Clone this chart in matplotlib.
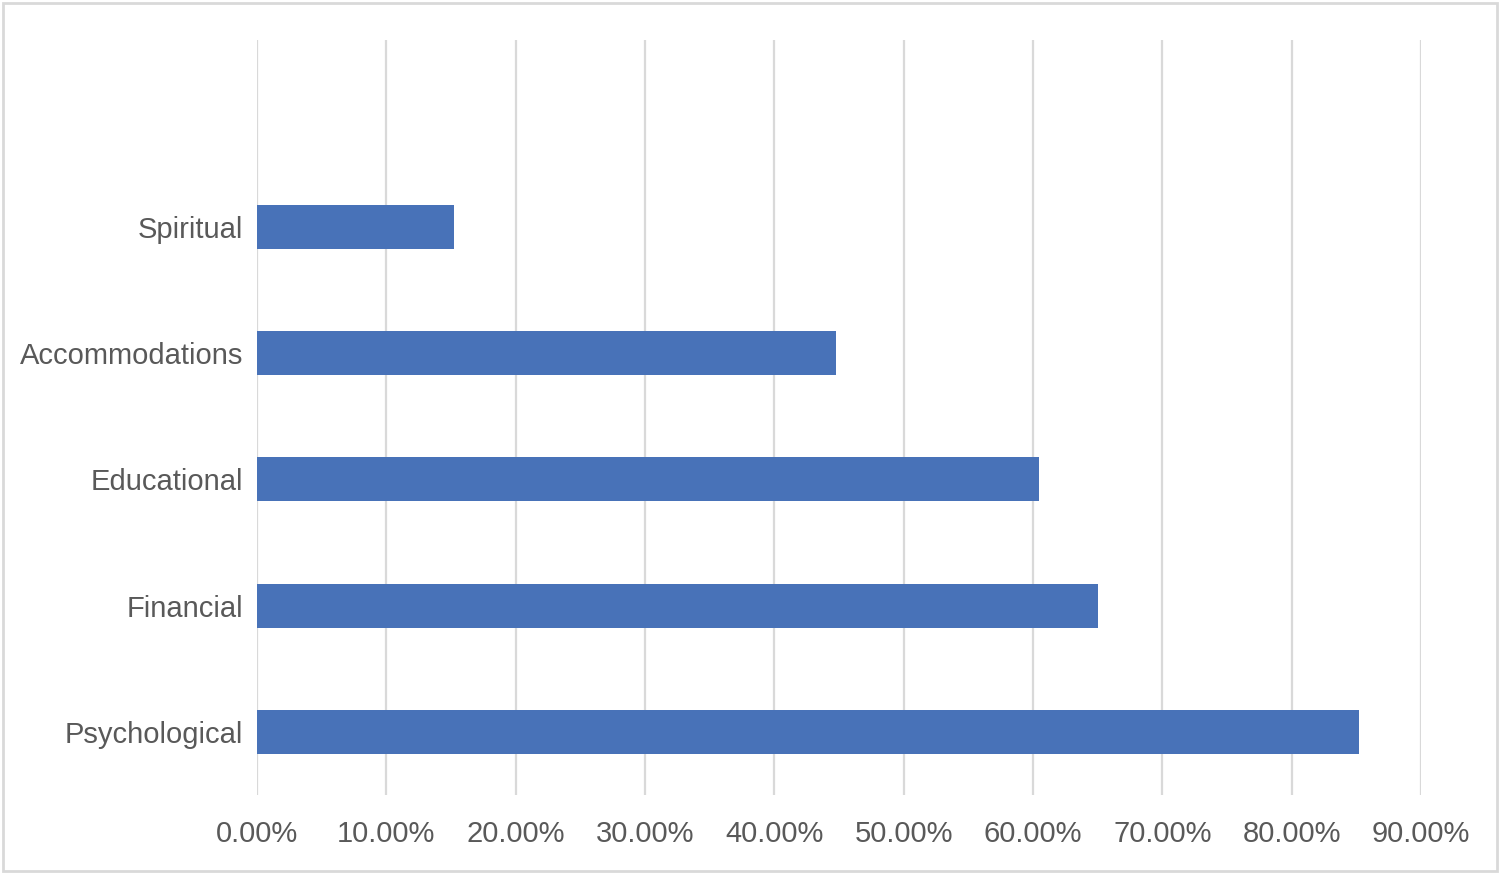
import matplotlib.pyplot as plt
from matplotlib.ticker import PercentFormatter

categories = ["Psychological", "Financial", "Educational", "Accommodations", "Spiritual"]
values = [85.2, 65.0, 60.5, 44.8, 15.2]
xticks = [0, 10, 20, 30, 40, 50, 60, 70, 80, 90]

plt.rcParams["font.family"] = ["Liberation Sans", "DejaVu Sans"]

fig = plt.figure(figsize=(15, 8.74), dpi=100)
ax = fig.add_axes([0.1713, 0.0904, 0.776, 0.8638])

ax.barh(range(len(categories)), values, height=0.35, color="#4872B8", zorder=3)

ax.set_xlim(0, 90)
ax.set_ylim(-0.5, 5.48)
ax.set_xticks(xticks)
ax.xaxis.set_major_formatter(PercentFormatter(decimals=2))
ax.set_yticks(range(len(categories)))
ax.set_yticklabels(categories)

ax.grid(axis="x", color="#D9D9D9", linewidth=1.6, zorder=0)
for s in ax.spines.values():
    s.set_visible(False)
ax.tick_params(axis="both", length=0, labelsize=21, labelcolor="#595959")
ax.tick_params(axis="x", pad=18)
ax.tick_params(axis="y", pad=10)
for lbl in ax.get_yticklabels():
    lbl.set_y(lbl.get_position()[1])
    lbl.set_va("center_baseline")

# light frame around the whole picture
fig.patches.append(plt.Rectangle((0.002, 0.004), 0.996, 0.992, transform=fig.transFigure,
                                 fill=False, edgecolor="#D9D9D9", linewidth=2))

fig.savefig("out.png", dpi=100)
